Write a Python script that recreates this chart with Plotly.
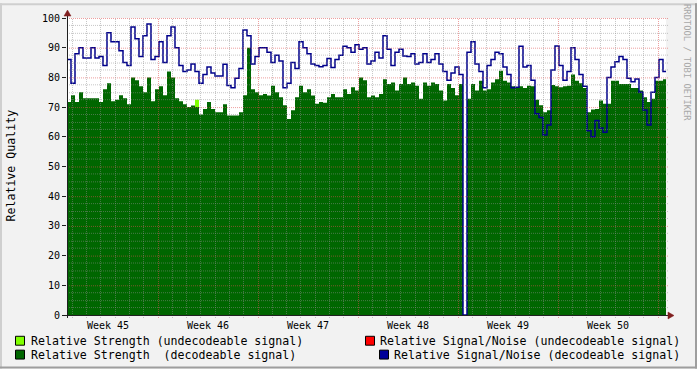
import math
import plotly.graph_objects as go

# ---------------- data (6.72 h samples, ~6 weeks) ----------------
STEP_H = 6.72

strength_decoded = [
    71.7, 74, 71.7, 75, 73, 73, 73, 73, 71.7, 76,
    78, 72, 72.5, 74, 73, 71, 80, 79, 77, 75,
    80, 72, 76, 77, 74, 82, 80, 73, 72, 71,
    70, 70.5, 70, 67.5, 69.4, 71.7, 69.4, 68.3, 68.3, 71,
    67.2, 67.2, 67.2, 68.3, 74, 90, 76, 75, 74, 74.4,
    73.9, 77.2, 75, 73.3, 70.6, 66, 68.9, 73.3, 77.2, 75,
    76, 73.9, 71.1, 71.7, 71.5, 73.3, 74.4, 73.3, 73.3, 76,
    74.4, 76.7, 75.6, 80, 79, 73.3, 73.9, 73.3, 74.4, 79.4,
    77.8, 78.3, 75.6, 77.8, 80, 77.8, 78.3, 77.2, 72.8, 78.3,
    77.2, 78.3, 77.8, 75.6, 72.2, 77.8, 76.4, 74, 77.8, 0,
    72.8, 77.8, 75.6, 78.9, 75.6, 76, 78.3, 79.4, 82.2, 78.9,
    78.3, 77, 76.7, 77, 76.4, 77.2, 77, 72.5, 70.6, 68.3,
    68.9, 77.4, 77, 76.7, 77, 77.2, 81, 78.9, 78, 76.4,
    68.3, 69.2, 69.4, 72.2, 71.1, 71.1, 78.9, 78.9, 77.8, 77.8,
    77.8, 76.4, 76.4, 75.6, 73.3, 71.7, 72.8, 78.9, 78.9, 79.4,
    78,
]

# undecodeable strength: only one short burst visible
strength_undecoded = [0] * 32 + [72.5] + [0] * 118

snr_decoded = [
    86, 78, 88, 90, 86.5, 86.5, 90, 86.5, 87, 84,
    95, 92, 92, 89, 85, 84, 97, 93, 87, 94,
    98, 86, 87, 92, 85, 94, 97, 90, 84, 82,
    82.5, 84.5, 82, 78, 81, 83.5, 81.5, 80.5, 80.5, 84.4,
    77.3, 76.5, 79.7, 83, 96, 94, 84.5, 87, 90, 90,
    88.5, 85, 87.5, 85.5, 76.5, 78, 85, 83, 92, 90,
    88, 84.5, 84, 83.6, 84, 86.4, 83.3, 86, 87.5, 90.5,
    90, 88.5, 91, 89.5, 90, 84.5, 85.5, 88.5, 86.5, 94,
    89.5, 84, 88.5, 89.5, 87.2, 87, 88, 84.5, 85, 88,
    85, 86, 88, 84.5, 82, 79, 81.5, 83.5, 81, 0,
    88.5, 92, 84.5, 82, 76.5, 84, 86, 88.5, 88, 83.5,
    81, 76.5, 76.7, 90.5, 83.5, 84, 79, 67.8, 66.5, 60.6,
    64, 82.5, 90.6, 84, 79, 82, 90, 86, 81, 77,
    62, 60, 65.5, 63, 61.5, 80, 83.5, 85.3, 87, 86,
    79.7, 78.5, 79.5, 75, 69, 64, 75, 80, 86, 82,
    82,
]

snr_undecoded = [None] * len(snr_decoded)

week_labels = ["Week 45", "Week 46", "Week 47", "Week 48", "Week 49", "Week 50"]
week_bounds_h = [152.9, 320.9, 488.9, 656.9, 824.9, 992.9]
y_ticks = [0, 10, 20, 30, 40, 50, 60, 70, 80, 90, 100]

times = [i * STEP_H for i in range(len(strength_decoded))]

# ---------------- geometry / styles ----------------
W, H = 697, 369
ML, MR, MT, MB = 67, 31, 15, 54
PW, PH = W - ML - MR, H - MT - MB
H_PER_PX = 1.68
X_MAX = PW * H_PER_PX
FONT = "DejaVu Sans Mono"

GRID = "rgba(143,143,143,0.5)"
MGRID = "rgba(222,79,79,0.55)"
ARROW = "#801f1f"
AXIS = "#1f1f1f"


def px(x):
    return (x - ML) / PW


def py(y):
    return (MT + PH - y) / PH


fig = go.Figure()
fig.add_trace(go.Scatter(x=times, y=strength_undecoded, mode="lines",
                         line=dict(width=0, shape="hv"), fill="tozeroy",
                         fillcolor="#80ff00", hoverinfo="skip"))
fig.add_trace(go.Scatter(x=times, y=strength_decoded, mode="lines",
                         line=dict(width=0, shape="hv"), fill="tozeroy",
                         fillcolor="#006600", hoverinfo="skip"))
fig.add_trace(go.Scatter(x=times, y=snr_undecoded, mode="lines",
                         line=dict(width=1, shape="hv", color="#ff0000"),
                         hoverinfo="skip"))
fig.add_trace(go.Scatter(x=times, y=snr_decoded, mode="lines",
                         line=dict(width=1.5, shape="hv", color="#00008b"),
                         hoverinfo="skip"))

shapes = []
# horizontal grid lines (drawn over data like rrdtool), snapped to pixel centres
v = 2.5
while v <= 100.01:
    major = abs(v / 10 - round(v / 10)) < 1e-6
    yc = math.floor(MT + PH - 3 * v) + 0.5
    shapes.append(dict(type="line", xref="paper", yref="paper", layer="above",
                       x0=0, x1=1 + 3 / PW, y0=py(yc), y1=py(yc),
                       line=dict(color=MGRID if major else GRID, width=1,
                                 dash="1px,1px")))
    v += 2.5
# vertical daily / weekly grid lines
d = week_bounds_h[0] - 24 * 6
while d < X_MAX:
    major = any(abs(d - b) < 1e-6 for b in week_bounds_h)
    xc = math.floor(ML + d / H_PER_PX) + 0.5
    shapes.append(dict(type="line", xref="paper", yref="paper", layer="above",
                       x0=px(xc), x1=px(xc), y0=py(MT + PH + 3), y1=1,
                       line=dict(color=MGRID if major else GRID, width=1,
                                 dash="1px,1px")))
    d += 24
# axes lines
shapes.append(dict(type="line", xref="paper", yref="paper", layer="above",
                   x0=px(63), x1=px(670), y0=py(315.5), y1=py(315.5),
                   line=dict(color=AXIS, width=1)))
shapes.append(dict(type="line", xref="paper", yref="paper", layer="above",
                   x0=px(67.5), x1=px(67.5), y0=py(318), y1=py(11),
                   line=dict(color=AXIS, width=1)))
# arrows
shapes.append(dict(type="path", xref="paper", yref="paper", layer="above",
                   path=f"M {px(668)},{py(312)} L {px(674)},{py(315.5)} L {px(668)},{py(319)} Z",
                   fillcolor=ARROW, line=dict(color=ARROW, width=0.5)))
shapes.append(dict(type="path", xref="paper", yref="paper", layer="above",
                   path=f"M {px(64)},{py(13)} L {px(67.5)},{py(7)} L {px(71)},{py(13)} Z",
                   fillcolor=ARROW, line=dict(color=ARROW, width=0.5)))
# frame
for (x0, y0, x1, y1, c) in [(0, 0, W, 2, "#cfcfcf"), (0, 0, 2, H, "#cfcfcf"),
                            (0, H - 2, W, H, "#9e9e9e"), (W - 2, 0, W, H, "#9e9e9e")]:
    shapes.append(dict(type="rect", xref="paper", yref="paper", layer="above",
                       x0=px(x0), x1=px(x1), y0=py(y1), y1=py(y0),
                       fillcolor=c, line=dict(width=0)))
# legend boxes
legend_items = [
    ("Relative Strength (undecodeable signal)", "#80ff00", 15, 341, "left", 30),
    ("Relative Strength\u00a0 (decodeable signal)", "#006600", 15, 355, "left", 30),
    ("Relative Signal/Noise (undecodeable signal)", "#ff0000", 365, 341, "right", 681),
    ("Relative Signal/Noise (decodeable signal)", "#000099", 379, 355, "right", 681),
]
annotations = []
for text, col, bx, cy, anchor, tx in legend_items:
    shapes.append(dict(type="rect", xref="paper", yref="paper", layer="above",
                       x0=px(bx + 0.5), x1=px(bx + 9.5), y0=py(cy + 4.5), y1=py(cy - 4.5),
                       fillcolor=col, line=dict(color="black", width=1)))
    annotations.append(dict(text=text, xref="paper", yref="paper",
                            x=px(tx), y=py(cy), xanchor=anchor, yanchor="middle",
                            showarrow=False, borderpad=0,
                            font=dict(family=FONT, size=11.6, color="black")))

annotations.append(dict(text="Relative Quality", xref="paper", yref="paper",
                        x=px(11), y=py(164), textangle=-90, showarrow=False,
                        xanchor="center", yanchor="middle", borderpad=0,
                        font=dict(family=FONT, size=11.6, color="black")))
annotations.append(dict(text="RRDTOOL / TOBI OETIKER", xref="paper", yref="paper",
                        x=px(687.5), y=py(60), textangle=90, showarrow=False,
                        xanchor="center", yanchor="middle", borderpad=0,
                        font=dict(family=FONT, size=8.8, color="#a8a8a8")))

week_label_pos = [b - 84 for b in week_bounds_h]

fig.update_layout(
    width=W, height=H,
    margin=dict(l=ML, r=MR, t=MT, b=MB, pad=0),
    paper_bgcolor="#f2f2f2", plot_bgcolor="white",
    showlegend=False, hovermode=False,
    shapes=shapes, annotations=annotations,
    xaxis=dict(range=[0, X_MAX], showgrid=False, zeroline=False,
               tickmode="array", tickvals=week_label_pos, ticktext=week_labels,
               ticks="", showline=False, ticklabelstandoff=3,
               tickfont=dict(family=FONT, size=10, color="black")),
    yaxis=dict(range=[0, 100], showgrid=False, zeroline=False,
               tickmode="array", tickvals=y_ticks,
               ticks="outside", ticklen=4, tickcolor=AXIS, tickwidth=1,
               showline=False,
               tickfont=dict(family=FONT, size=10, color="black")),
)

fig.write_html("out.html", config={"displayModeBar": False},
               post_script="document.body.style.margin='0';document.body.style.overflow='hidden';")
